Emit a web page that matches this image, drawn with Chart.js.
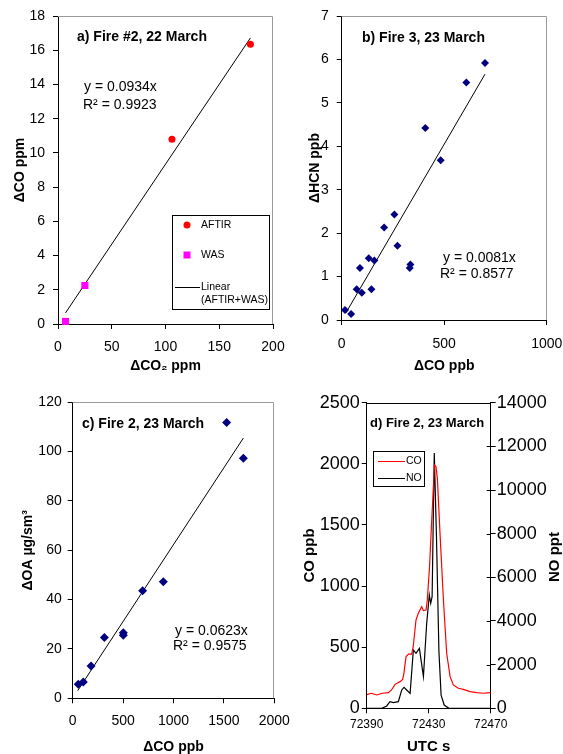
<!DOCTYPE html>
<html>
<head>
<meta charset="utf-8">
<script src="https://cdn.jsdelivr.net/npm/chart.js@4"></script>
<style>
  body { margin: 0; background: #fff; }
  #wrap { position: relative; width: 563px; height: 754px; overflow: hidden; }
  canvas { position: absolute; }
</style>
</head>
<body>
<div id="wrap">
  <canvas id="chartA" width="292" height="384" style="left:0;top:0"></canvas>
  <canvas id="chartB" width="281" height="384" style="left:282px;top:0"></canvas>
  <canvas id="chartC" width="292" height="384" style="left:0;top:370px"></canvas>
  <canvas id="chartD" width="281" height="384" style="left:282px;top:370px"></canvas>
</div>
<script>
// a) Fire #2, 22 March : dCO vs dCO2 (ppm)
var aftirCO2 = [106, 179];
var aftirCO = [10.8, 16.35];
var wasCO2 = [7, 25];
var wasCO = [0.15, 2.25];
var fitAX = [7, 179];
var fitAY = [0.65, 16.72];

// b) Fire 3, 23 March : dHCN vs dCO (ppb)
var hcnCO = [16, 46, 73, 98, 89, 132, 145, 159, 207, 257, 272, 332, 335, 408, 483, 608, 699];
var hcnHCN = [0.23, 0.14, 0.71, 0.63, 1.2, 1.42, 0.71, 1.37, 2.13, 2.43, 1.71, 1.2, 1.28, 4.42, 3.68, 5.47, 5.92];
var fitBX = [20, 699];
var fitBY = [0.16, 5.66];

// c) Fire 2, 23 March : dOA vs dCO
var oaCO = [55, 105, 182, 314, 502, 502, 694, 899, 1527, 1693];
var oaOA = [5.7, 6.6, 13.1, 24.6, 26.6, 25.6, 43.6, 47.2, 111.8, 97.3];
var fitCX = [50, 1693];
var fitCY = [3.1, 105.5];

// d) Fire 2, 23 March : time series
var coTime = [72390, 72393, 72396.5, 72400, 72404, 72406, 72408.3, 72411.5, 72413.2, 72414, 72415.4, 72417, 72419, 72420,
  72421.8, 72423.3, 72425.5, 72426.6, 72428.3, 72429.1, 72430.5, 72432, 72433.7, 72434.7, 72435.6, 72437.3, 72439.5,
  72441.6, 72443.8, 72445.9, 72449.1, 72452.4, 72456.7, 72461, 72465.3, 72470];
var coPpb = [112, 123, 109, 123, 128, 150, 196, 218, 237, 286, 423, 444, 444, 504,
  722, 777, 831, 799, 804, 886, 1150, 1550, 1990, 1977, 1881, 1431, 886,
  450, 259, 191, 164, 155, 136, 128, 123, 128];
var noTime = [72390, 72399.7, 72402.9, 72405, 72407.2, 72410.4, 72412.6, 72414.1, 72415.8, 72418, 72420.1, 72421.8,
  72424, 72426.6, 72428.7, 72430.4, 72431.3, 72432.2, 72433.6, 72435, 72436.6, 72438, 72440, 72443, 72470];
var noPpt = [0, 0, 107, 305, 260, 305, 840, 962, 840, 687, 2672, 2519,
  2748, 1450, 3893, 5191, 4809, 5115, 11700, 7900, 2600, 600, 150, 0, 0];

var FONT = '"Liberation Sans", Arial, sans-serif';
Chart.defaults.font.family = FONT;
Chart.defaults.color = '#000';

function toPoints(xs, ys) {
  var pts = [];
  for (var i = 0; i < xs.length; i++) pts.push({ x: xs[i], y: ys[i] });
  return pts;
}

function fixSize(size) {
  return function (scale) {
    if (scale.isHorizontal()) scale.height = size;
    else scale.width = size;
    scale.paddingLeft = 0;
    scale.paddingRight = 0;
    scale.paddingTop = 0;
    scale.paddingBottom = 0;
  };
}

function axis(o) {
  return {
    type: 'linear',
    position: o.position,
    min: o.min,
    max: o.max,
    afterFit: fixSize(o.size),
    border: { display: true, color: '#000', width: 1 },
    grid: { drawOnChartArea: false, drawTicks: true, tickLength: 5, color: '#000' },
    ticks: {
      stepSize: o.step, autoSkip: false, maxRotation: 0, padding: o.tickPad, color: '#000',
      font: { size: o.tickSize },
      callback: function (v) { return String(v); }
    },
    title: {
      display: !!o.title, text: o.title, color: '#000',
      font: { size: o.titleSize || 14, weight: 'bold', lineHeight: o.titleLh || 1.2 },
      padding: o.titlePad || 0
    }
  };
}

function text(ctx, s, x, y, font, align) {
  ctx.font = font;
  ctx.fillStyle = '#000';
  ctx.textAlign = align || 'left';
  ctx.textBaseline = 'middle';
  ctx.fillText(s, x, y);
}

function grayFrame(ctx, a) {
  var t = Math.round(a.top) + 0.5, r = Math.round(a.right) - 0.5;
  ctx.strokeStyle = '#9a9a9a';
  ctx.lineWidth = 1;
  ctx.beginPath();
  ctx.moveTo(a.left, t);
  ctx.lineTo(r, t);
  ctx.lineTo(r, a.bottom);
  ctx.stroke();
}

function notes(fn) {
  return {
    id: 'notes',
    afterDraw: function (chart) {
      var ctx = chart.ctx;
      ctx.save();
      fn(ctx, chart.chartArea, chart);
      ctx.restore();
    }
  };
}

function baseOptions(padding, scales) {
  return {
    responsive: false,
    animation: false,
    layout: { padding: padding, autoPadding: false },
    plugins: { legend: { display: false }, tooltip: { enabled: false } },
    scales: scales
  };
}

function fitLine(xs, ys) {
  return { data: toPoints(xs, ys), showLine: true, borderColor: '#000', borderWidth: 1, pointRadius: 0, clip: false };
}

function markers(xs, ys, color, style, r) {
  return { data: toPoints(xs, ys), backgroundColor: color, borderColor: color, pointStyle: style,
    pointRadius: r, pointBorderWidth: 0, clip: false };
}

var B14 = 'bold 14px ' + FONT;
var R14 = '14px ' + FONT;
var R10 = '10.5px ' + FONT;

// a)
new Chart(document.getElementById('chartA'), {
  type: 'scatter',
  data: {
    datasets: [
      markers(aftirCO2, aftirCO, '#ff0000', 'circle', 3.5),
      markers(wasCO2, wasCO, '#ff00ff', 'rect', 5),
      fitLine(fitAX, fitAY)
    ]
  },
  options: baseOptions({ top: 16, right: 19, left: 0, bottom: 0 }, {
    x: axis({ position: 'bottom', min: 0, max: 200, step: 50, size: 60, tickSize: 14, tickPad: 10,
      title: 'ΔCO₂ ppm', titlePad: { bottom: 9.6 } }),
    y: axis({ position: 'left', min: 0, max: 18, step: 2, size: 58, tickSize: 14, tickPad: 8,
      title: 'ΔCO ppm', titlePad: { top: 11.6 } })
  }),
  plugins: [notes(function (ctx, a) {
    grayFrame(ctx, a);
    text(ctx, 'a) Fire #2, 22 March', 77, 37, B14);
    text(ctx, 'y = 0.0934x', 84, 87, R14);
    text(ctx, 'R² = 0.9923', 83, 105, R14);
    // legend box
    ctx.strokeStyle = '#000';
    ctx.lineWidth = 1;
    ctx.strokeRect(172.5, 215.5, 97, 94);
    ctx.fillStyle = '#ff0000';
    ctx.beginPath();
    ctx.arc(187, 225, 3.5, 0, Math.PI * 2);
    ctx.fill();
    ctx.fillStyle = '#ff00ff';
    ctx.fillRect(183.5, 251.5, 7, 7);
    ctx.strokeStyle = '#000';
    ctx.beginPath();
    ctx.moveTo(175, 287.5);
    ctx.lineTo(200, 287.5);
    ctx.stroke();
    text(ctx, 'AFTIR', 201, 225, R10);
    text(ctx, 'WAS', 201, 255, R10);
    text(ctx, 'Linear', 201, 287, R10);
    text(ctx, '(AFTIR+WAS)', 201, 300, R10);
  })]
});

// b)
new Chart(document.getElementById('chartB'), {
  type: 'scatter',
  data: {
    datasets: [
      markers(hcnCO, hcnHCN, '#000080', 'rectRot', 4),
      fitLine(fitBX, fitBY)
    ]
  },
  options: baseOptions({ top: 16, right: 16.3, left: 0, bottom: 0 }, {
    x: axis({ position: 'bottom', min: 0, max: 1000, step: 500, size: 64, tickSize: 14, tickPad: 11,
      title: 'ΔCO ppb', titlePad: { bottom: 9.6 } }),
    y: axis({ position: 'left', min: 0, max: 7, step: 1, size: 59.7, tickSize: 14, tickPad: 8,
      title: 'ΔHCN ppb', titlePad: { top: 24.6 } })
  }),
  plugins: [notes(function (ctx, a) {
    grayFrame(ctx, a);
    text(ctx, 'b) Fire 3, 23 March', 80, 38, B14);
    text(ctx, 'y = 0.0081x', 161, 258, R14);
    text(ctx, 'R² = 0.8577', 158, 274, R14);
  })]
});

// c)
new Chart(document.getElementById('chartC'), {
  type: 'scatter',
  data: {
    datasets: [
      markers(oaCO, oaOA, '#000080', 'rectRot', 4.5),
      fitLine(fitCX, fitCY)
    ]
  },
  options: baseOptions({ top: 32.3, right: 17.7, left: 0, bottom: 0 }, {
    x: axis({ position: 'bottom', min: 0, max: 2000, step: 500, size: 55.7, tickSize: 14, tickPad: 9,
      title: 'ΔCO ppb', titleLh: 1, titlePad: { bottom: 0.3 } }),
    y: axis({ position: 'left', min: 0, max: 120, step: 20, size: 72.7, tickSize: 14, tickPad: 6,
      title: 'ΔOA µg/sm³', titlePad: { top: 19.9 } })
  }),
  plugins: [notes(function (ctx, a) {
    grayFrame(ctx, a);
    text(ctx, 'c) Fire 2, 23 March', 82, 54, B14);
    text(ctx, 'y = 0.0623x', 175, 261, R14);
    text(ctx, 'R² = 0.9575', 173, 276, R14);
  })]
});

// d)
new Chart(document.getElementById('chartD'), {
  type: 'scatter',
  data: {
    datasets: [
      { data: toPoints(coTime, coPpb), yAxisID: 'y', showLine: true, borderColor: '#ff0000', borderWidth: 1.2, pointRadius: 0 },
      { data: toPoints(noTime, noPpt), yAxisID: 'y1', showLine: true, borderColor: '#000', borderWidth: 1.2, pointRadius: 0 }
    ]
  },
  options: baseOptions({ top: 32.7, right: 0, left: 0, bottom: 0 }, {
    x: axis({ position: 'bottom', min: 72390, max: 72470, step: 40, size: 45.7, tickSize: 12, tickPad: 4.5,
      title: 'UTC s', titleSize: 15, titleLh: 1, titlePad: { bottom: 0 } }),
    y: axis({ position: 'left', min: 0, max: 2500, step: 500, size: 84.7, tickSize: 18, tickPad: 2,
      title: 'CO ppb', titleSize: 15, titlePad: { top: 19 } }),
    y1: axis({ position: 'right', min: 0, max: 14000, step: 2000, size: 72.3, tickSize: 18, tickPad: 1 })
  }),
  plugins: [notes(function (ctx, a, chart) {
    ctx.strokeStyle = '#000';
    ctx.lineWidth = 1;
    var t = Math.round(a.top) + 0.5;
    ctx.beginPath();
    ctx.moveTo(a.left, t);
    ctx.lineTo(a.right, t);
    ctx.stroke();
    // right axis ticks cross into the plot
    var s = chart.scales.y1;
    s.ticks.forEach(function (tk) {
      var y = Math.round(s.getPixelForValue(tk.value)) + 0.5;
      ctx.beginPath();
      ctx.moveTo(a.right - 4, y);
      ctx.lineTo(a.right, y);
      ctx.stroke();
    });
    text(ctx, 'd) Fire 2, 23 March', 88, 53, 'bold 13px ' + FONT);
    // legend
    ctx.strokeRect(91.5, 81.5, 51, 35);
    ctx.strokeStyle = '#ff0000';
    ctx.beginPath();
    ctx.moveTo(96, 91.5);
    ctx.lineTo(123, 91.5);
    ctx.stroke();
    ctx.strokeStyle = '#000';
    ctx.beginPath();
    ctx.moveTo(96, 108.5);
    ctx.lineTo(123, 108.5);
    ctx.stroke();
    text(ctx, 'CO', 124, 91, R10);
    text(ctx, 'NO', 124, 108, R10);
    // right axis title, reading bottom to top
    ctx.save();
    ctx.translate(273, 187);
    ctx.rotate(-Math.PI / 2);
    text(ctx, 'NO ppt', 0, 0, 'bold 15px ' + FONT, 'center');
    ctx.restore();
  })]
});
</script>
</body>
</html>
